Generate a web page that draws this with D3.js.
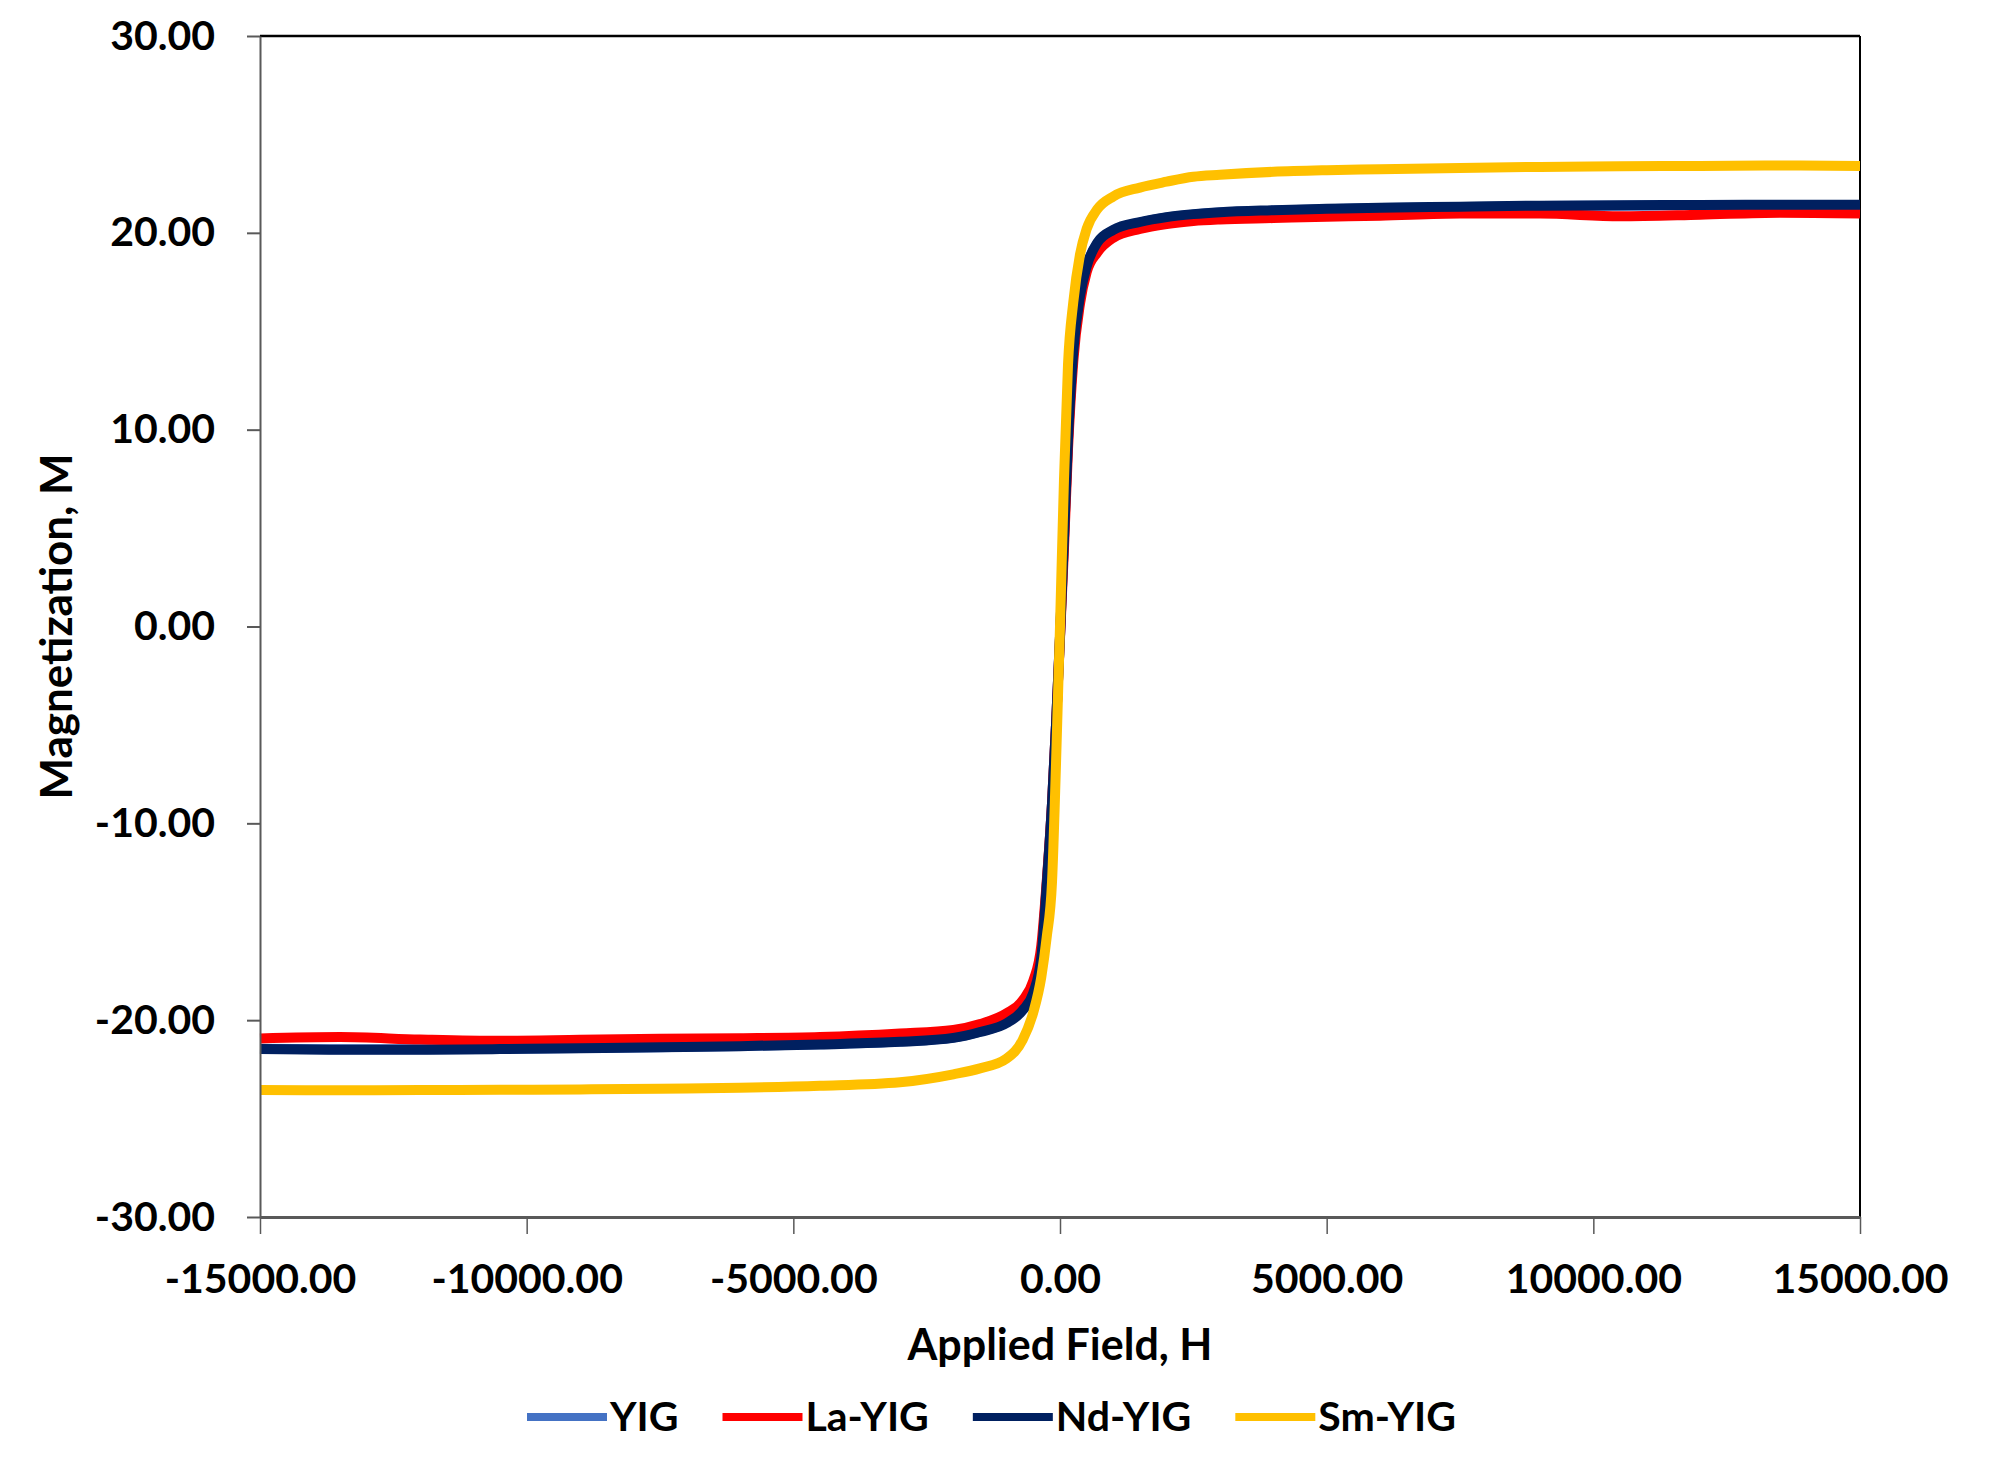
<!DOCTYPE html>
<html>
<head>
<meta charset="utf-8">
<script src="https://cdn.jsdelivr.net/npm/d3@7"></script>
<style>
  body { margin: 0; background: #fff; }
  text { font-family: Lato, "Open Sans", sans-serif; font-weight: 700; fill: #000; }
</style>
</head>
<body>
<div id="chart"></div>
<script>

// applied field H (same sweep for every sample)
var fieldH = [-15000, -13500, -12000, -10500, -9000, -7500, -6000, -4500, -3000, -2000, -1500, -1000,
  -700, -500, -350, -250, -150, -75, 0, 75, 150, 250, 375, 500, 700, 1000, 1500, 2000, 2500, 3000,
  4000, 5000, 6000, 7500, 9000, 10500, 12000, 13500, 15000];

// magnetization M for each sample
var yig = [-21.45, -21.48, -21.48, -21.45, -21.42, -21.37, -21.31, -21.22, -21.08, -20.88, -20.58, -20.1,
  -19.4, -18.5, -16.7, -13.1, -9.0, -5.0, -0.5, 4.5, 9.5, 14.0, 16.9, 18.35, 19.45, 20.12, 20.52, 20.78,
  20.93, 21.03, 21.13, 21.2, 21.26, 21.31, 21.36, 21.38, 21.4, 21.41, 21.41];
var laYig = [-20.93, -20.86, -20.98, -21.05, -21.0, -20.95, -20.92, -20.86, -20.68, -20.5, -20.2, -19.65,
  -19.0, -18.0, -16.2, -13.0, -9.0, -5.0, -0.6, 4.0, 9.0, 13.5, 16.4, 18.0, 19.0, 19.75, 20.2, 20.45,
  20.6, 20.68, 20.75, 20.82, 20.87, 20.98, 20.98, 20.84, 20.92, 21.02, 20.98];
var ndYig = [-21.47, -21.5, -21.5, -21.47, -21.43, -21.38, -21.32, -21.23, -21.1, -20.9, -20.6, -20.15,
  -19.5, -18.6, -16.8, -13.2, -9.0, -5.0, -0.5, 4.5, 9.5, 14.0, 16.8, 18.3, 19.5, 20.15, 20.55, 20.8,
  20.95, 21.05, 21.15, 21.22, 21.28, 21.33, 21.38, 21.4, 21.42, 21.43, 21.43];
var smYig = [-23.55, -23.56, -23.55, -23.54, -23.52, -23.48, -23.43, -23.33, -23.15, -22.75, -22.45, -21.95,
  -21.0, -19.6, -17.8, -15.8, -13.0, -7.0, 0.0, 7.5, 13.3, 16.5, 18.9, 20.2, 21.2, 21.85, 22.3, 22.6,
  22.85, 22.95, 23.1, 23.18, 23.23, 23.3, 23.35, 23.38, 23.4, 23.42, 23.4];

var seriesNames = ["YIG", "La-YIG", "Nd-YIG", "Sm-YIG"];
var seriesColors = ["#4472C4", "#FF0000", "#002060", "#FFC000"];
var xTicks = [-15000, -10000, -5000, 0, 5000, 10000, 15000];
var yTicks = [-30, -20, -10, 0, 10, 20, 30];

var w = 1989;
var h = 1465;

var svg = d3.select("#chart")
  .append("svg")
  .attr("width", w)
  .attr("height", h);

var xScale = d3.scaleLinear()
  .domain([-15000, 15000])
  .range([260, 1860]);

var yScale = d3.scaleLinear()
  .domain([-30, 30])
  .range([1217, 36]);

// top and right frame
svg.append("line")
  .attr("x1", xScale(-15000)).attr("x2", xScale(15000))
  .attr("y1", yScale(30)).attr("y2", yScale(30))
  .attr("stroke", "#000").attr("stroke-width", 2.5);
svg.append("line")
  .attr("x1", xScale(15000)).attr("x2", xScale(15000))
  .attr("y1", yScale(30)).attr("y2", yScale(-30))
  .attr("stroke", "#000").attr("stroke-width", 2);

var data = [yig, laYig, ndYig, smYig];

var line = d3.line()
  .x(function(d, i) { return xScale(fieldH[i]); })
  .y(function(d) { return yScale(d); })
  .curve(d3.curveMonotoneX);

svg.selectAll("path.series")
  .data(data)
  .enter()
  .append("path")
  .attr("class", "series")
  .attr("d", line)
  .attr("fill", "none")
  .attr("stroke", function(d, i) { return seriesColors[i]; })
  .attr("stroke-width", 10)
  .attr("stroke-linejoin", "round");

//Y axis
var yAxis = d3.axisLeft(yScale)
  .tickValues(yTicks)
  .tickSize(13)
  .tickSizeOuter(0)
  .tickPadding(32)
  .tickFormat(function(d) { return d.toFixed(2); });

var gy = svg.append("g")
  .attr("class", "y axis")
  .attr("transform", "translate(" + xScale(-15000) + ",0)")
  .call(yAxis);
gy.select(".domain").attr("stroke", "#595959").attr("stroke-width", 2);
gy.selectAll(".tick line").attr("stroke", "#595959").attr("stroke-width", 2);
gy.selectAll("text").style("font-size", "41px").attr("fill", "#000");

//X axis
var xAxis = d3.axisBottom(xScale)
  .tickValues(xTicks)
  .tickSize(17)
  .tickSizeOuter(0)
  .tickPadding(30)
  .tickFormat(function(d) { return d.toFixed(2); });

var gx = svg.append("g")
  .attr("class", "x axis")
  .attr("transform", "translate(0," + yScale(-30) + ")")
  .call(xAxis);
gx.select(".domain").attr("stroke", "#595959").attr("stroke-width", 3);
gx.selectAll(".tick line").attr("stroke", "#595959").attr("stroke-width", 1.5);
gx.selectAll("text").style("font-size", "41px").attr("fill", "#000");

// axis titles
svg.append("text")
  .attr("text-anchor", "middle")
  .attr("x", (xScale(-15000) + xScale(15000)) / 2)
  .attr("y", 1360)
  .style("font-size", "43px")
  .text("Applied Field, H");

svg.append("text")
  .attr("text-anchor", "middle")
  .attr("transform", "translate(72," + yScale(0) + ")rotate(-90)")
  .style("font-size", "44px")
  .text("Magnetization, M");

// legend
var legendY = 1417;
var lx = 527;
seriesNames.forEach(function(name, i) {
  svg.append("line")
    .attr("x1", lx).attr("x2", lx + 80)
    .attr("y1", legendY).attr("y2", legendY)
    .attr("stroke", seriesColors[i])
    .attr("stroke-width", 8);
  var t = svg.append("text")
    .attr("x", lx + 83)
    .attr("y", legendY + 14)
    .style("font-size", "41px")
    .text(name);
  lx = lx + 83 + t.node().getComputedTextLength() + 44;
});

</script>
</body>
</html>
